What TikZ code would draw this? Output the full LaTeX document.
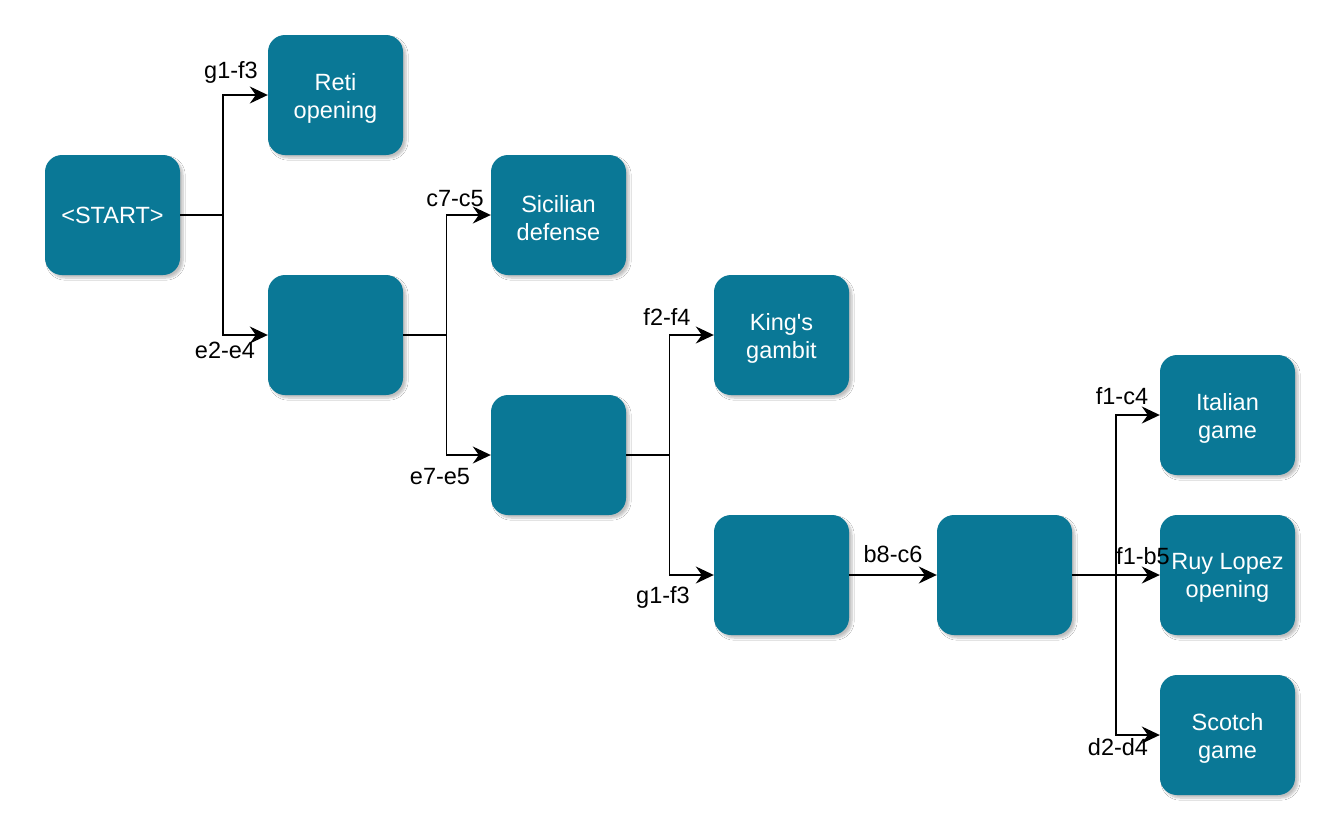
\documentclass[tikz,border=0pt]{standalone}
\usepackage{fontspec}
\setmainfont{Liberation Sans}
\usetikzlibrary{arrows.meta,shadows.blur}
\definecolor{boxfill}{RGB}{10,120,150}
\tikzset{
  box/.style={draw=none, fill=boxfill, rounded corners=17pt, minimum width=135pt, minimum height=120pt,
    inner sep=0pt, text=white, align=center, font=\fontsize{23.5pt}{28pt}\selectfont,
    blur shadow={shadow xshift=3pt, shadow yshift=-3pt, shadow blur steps=6, shadow opacity=25}},
  boxtext/.style={text=white, align=center, inner sep=0pt, font=\fontsize{23.5pt}{28pt}\selectfont, yshift=-3pt},
  conn/.style={draw=black, line width=1.5pt},
  arr/.style={conn, -{Stealth[length=18pt,width=17pt,inset=6pt]}},
  lbl/.style={text=black, inner sep=0pt, font=\fontsize{23.5pt}{28pt}\selectfont}
}
\begin{document}
\begin{tikzpicture}[x=1pt,y=-1pt]
\useasboundingbox (0,0) rectangle (1338,828);
\fill[white] (0,0) rectangle (1338,828);
% boxes
\node[box] (start) at (112.5,215) {<START>};
\node[box, label={[boxtext]center:Reti\\opening}] (reti) at (335.5,95) {};
\node[box] (m1) at (335.5,335) {};
\node[box, label={[boxtext]center:Sicilian\\defense}] (sic) at (558.5,215) {};
\node[box] (m2) at (558.5,455) {};
\node[box, label={[boxtext]center:King\textquotesingle s\\gambit}] (kg) at (781.5,335) {};
\node[box] (m3) at (781.5,575) {};
\node[box] (m4) at (1004.5,575) {};
\node[box, label={[boxtext]center:Italian\\game}] (ita) at (1227.5,415) {};
\node[box, label={[boxtext]center:Ruy Lopez\\opening}] (ruy) at (1227.5,575) {};
\node[box, label={[boxtext]center:Scotch\\game}] (sco) at (1227.5,735) {};
% fork points
\coordinate (f1) at (223,215);
\coordinate (f2) at (446.5,335);
\coordinate (f3) at (669.5,455);
\coordinate (f4) at (1116,575);
% connectors
\draw[conn] (start.east) -- (f1);
\draw[arr] (f1) |- (reti.west);
\draw[arr] (f1) |- (m1.west);
\draw[conn] (m1.east) -- (f2);
\draw[arr] (f2) |- (sic.west);
\draw[arr] (f2) |- (m2.west);
\draw[conn] (m2.east) -- (f3);
\draw[arr] (f3) |- (kg.west);
\draw[arr] (f3) |- (m3.west);
\draw[arr] (m3.east) -- (m4.west);
\draw[conn] (m4.east) -- (f4);
\draw[arr] (f4) |- (ita.west);
\draw[arr] (f4) -- (ruy.west);
\draw[arr] (f4) |- (sco.west);
% labels
\node[lbl] (l1) at (231,72) {g1-f3};
\node[lbl] (l2) at (225,350) {e2-e4};
\node[lbl] (l3) at (455,199) {c7-c5};
\node[lbl] (l4) at (440,477) {e7-e5};
\node[lbl] (l5) at (667,317) {f2-f4};
\node[lbl] (l6) at (663,597) {g1-f3};
\node[lbl] (l7) at (893,554) {b8-c6};
\node[lbl] (l8) at (1122,396) {f1-c4};
\node[lbl] (l9) at (1143,556) {f1-b5};
\node[lbl] (l10) at (1118,747) {d2-d4};
\end{tikzpicture}
\end{document}
